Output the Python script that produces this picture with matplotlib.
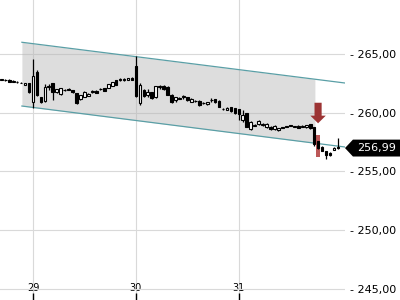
import numpy as np
import matplotlib
matplotlib.use('Agg')
import matplotlib.pyplot as plt
from matplotlib.patches import Polygon
import matplotlib.transforms as mtransforms

# OHLC bars (15 min), index 0..85
opens = [262.78, 262.80, 262.80, 262.62, 262.65, 262.52, 262.38, 262.50,
         260.95, 263.50, 261.30, 261.00, 262.20, 262.50, 261.74, 261.60, 261.92, 262.05,
         261.93, 261.65, 261.17, 261.36, 261.45, 261.78, 261.85, 261.98, 262.08, 262.13,
         262.30, 262.75, 262.75, 262.78, 262.82, 262.95,
         264.00, 260.80, 261.90, 261.50, 261.75, 261.30, 262.20, 262.27, 262.20, 261.55,
         261.08, 261.22, 261.35, 261.30, 260.95, 261.00, 261.00, 260.85, 260.72, 261.05,
         261.17, 261.00, 260.35, 260.25, 260.46, 260.37,
         260.30, 259.40, 259.95, 258.60, 258.90, 259.00, 258.95, 258.76, 258.80, 258.60,
         258.50, 258.73, 258.80, 258.90, 258.80, 258.90, 258.80, 258.75, 259.05, 258.75,
         257.55, 257.10, 256.74, 256.60, 256.82, 257.10]
highs = [262.90, 262.85, 262.85, 262.75, 262.70, 262.62, 262.55, 262.55,
         264.57, 263.60, 261.35, 262.44, 262.42, 262.55, 262.05, 262.10, 262.05, 262.10,
         261.95, 261.70, 261.55, 261.85, 261.65, 261.90, 261.90, 262.10, 262.12, 262.45,
         262.62, 262.78, 262.92, 262.95, 262.98, 263.00,
         264.80, 262.50, 262.00, 262.00, 261.80, 262.30, 262.40, 262.35, 262.25, 261.60,
         261.35, 261.30, 261.55, 261.35, 261.25, 261.05, 261.05, 260.90, 260.95, 261.25,
         261.20, 261.05, 260.40, 260.48, 260.50, 260.40,
         260.35, 260.23, 260.00, 259.30, 259.05, 259.35, 259.10, 259.10, 258.85, 258.95,
         258.70, 258.76, 258.82, 258.92, 258.90, 258.93, 258.92, 258.98, 259.08, 258.80,
         257.60, 257.15, 256.78, 256.65, 257.05, 257.87]
lows = [262.75, 262.72, 262.60, 262.58, 262.55, 262.50, 262.35, 261.70,
        260.43, 261.40, 260.80, 260.95, 261.93, 261.08, 261.70, 261.55, 261.85, 261.90,
        261.70, 260.72, 261.10, 261.30, 261.40, 261.70, 261.65, 261.90, 261.85, 262.10,
        262.25, 262.35, 262.70, 262.72, 262.78, 262.78,
        261.30, 260.70, 261.30, 261.30, 261.20, 261.25, 262.00, 261.95, 261.50, 260.85,
        260.90, 261.15, 261.20, 261.00, 260.90, 260.95, 260.60, 260.75, 260.70, 260.95,
        260.85, 260.45, 260.20, 260.20, 260.10, 259.90,
        259.38, 259.18, 258.75, 258.55, 258.85, 258.95, 258.90, 258.70, 258.55, 258.55,
        258.45, 258.70, 258.77, 258.87, 258.75, 258.70, 258.75, 258.72, 258.65, 257.20,
        256.90, 256.70, 256.10, 256.35, 256.80, 256.95]
closes = [262.82, 262.76, 262.62, 262.72, 262.58, 262.55, 262.50, 261.75,
          263.13, 261.50, 260.90, 262.16, 262.25, 261.80, 262.00, 262.08, 261.95, 261.93,
          261.74, 260.85, 261.50, 261.80, 261.60, 261.80, 261.70, 262.00, 261.88, 262.42,
          262.59, 262.40, 262.87, 262.90, 262.93, 262.82,
          261.45, 262.40, 261.40, 261.75, 261.25, 262.27, 262.22, 262.00, 261.55, 260.90,
          261.30, 261.20, 261.38, 261.08, 261.20, 260.98, 260.66, 260.82, 260.92, 261.08,
          260.89, 260.50, 260.28, 260.43, 260.14, 259.95,
          259.86, 259.80, 258.81, 259.23, 258.92, 259.30, 258.97, 259.04, 258.60, 258.90,
          258.67, 258.72, 258.79, 258.89, 258.82, 258.73, 258.82, 258.95, 258.70, 257.30,
          256.97, 256.74, 256.40, 256.40, 257.00, 256.99]

day_labels = ['29', '30', '31']
day_starts = [8, 34, 60]
y_ticks = [245, 250, 255, 260, 265]

# trend channel
channel_x = [5.2, 86.8]
channel_upper = [266.0, 262.53]
channel_lower = [260.57, 257.08]
channel_fill_end = 79.2

# signal
signal_bar = 80
signal_arrow_top = 260.85
signal_arrow_tip = 259.10
signal_range = [256.25, 258.10]

last_price = closes[-1]

fig = plt.figure(figsize=(4, 3), dpi=100)
ax = fig.add_axes([0, 0, 345 / 400, 1])

x = np.arange(len(closes))
o = np.array(opens); c = np.array(closes)
h = np.array(highs); l = np.array(lows)

# channel
fx = np.array([channel_x[0], channel_fill_end])
ax.fill_between(fx, np.interp(fx, channel_x, channel_lower), np.interp(fx, channel_x, channel_upper),
                color='#b4b4b4', alpha=0.45, lw=0, zorder=1)
ax.plot(channel_x, channel_upper, color='#5a9fa6', lw=0.9, zorder=2)
ax.plot(channel_x, channel_lower, color='#5a9fa6', lw=0.9, zorder=2)

# signal highlight
ax.bar(signal_bar, signal_range[1] - signal_range[0], bottom=signal_range[0], width=1.0,
       color='#b54646', alpha=0.9, lw=0, zorder=2)
ax.arrow(signal_bar, signal_arrow_top, 0, signal_arrow_tip - signal_arrow_top,
         width=1.8, head_width=3.9, head_length=0.65, length_includes_head=True,
         color='#9c3434', lw=0, zorder=5)

# candles
ax.vlines(x, l, h, color='black', lw=0.9, zorder=3)
up = c >= o
bottom = np.minimum(o, c)
height = np.maximum(np.abs(c - o), 0.05)
ax.bar(x, height, bottom=bottom, width=0.68,
       color=np.where(up, 'white', 'black'), edgecolor='black', linewidth=0.8, zorder=4)

ax.set_xlim(-0.33, 86.8)
ax.set_ylim(244.05, 269.6)

ax.grid(True, color='#d9d9d9', lw=0.8, zorder=0)
ax.set_axisbelow(True)
for s in ax.spines.values():
    s.set_visible(False)

ax.set_xticks(day_starts)
ax.set_xticklabels(day_labels)
ax.tick_params(axis='x', direction='in', length=5, width=1, color='black', pad=-12, labelsize=7)

ax.yaxis.tick_right()
ax.set_yticks(y_ticks)
ax.set_yticklabels(['- ' + f'{v:.2f}'.replace('.', ',') for v in y_ticks])
ax.tick_params(axis='y', length=0, pad=3.8, labelsize=8)

# last price tag
trans = mtransforms.blended_transform_factory(ax.transAxes, ax.transData)
half = 0.72
tag = Polygon([(1.0, last_price), (1.023, last_price + half), (1.16, last_price + half),
               (1.16, last_price - half), (1.023, last_price - half)],
              closed=True, transform=trans, facecolor='black', edgecolor='none', clip_on=False)
ax.add_patch(tag)
ax.text(1.035, last_price, f'{last_price:.2f}'.replace('.', ','), transform=trans,
        color='white', fontsize=8, va='center', ha='left', clip_on=False)

fig.savefig('out.png', dpi=100)
